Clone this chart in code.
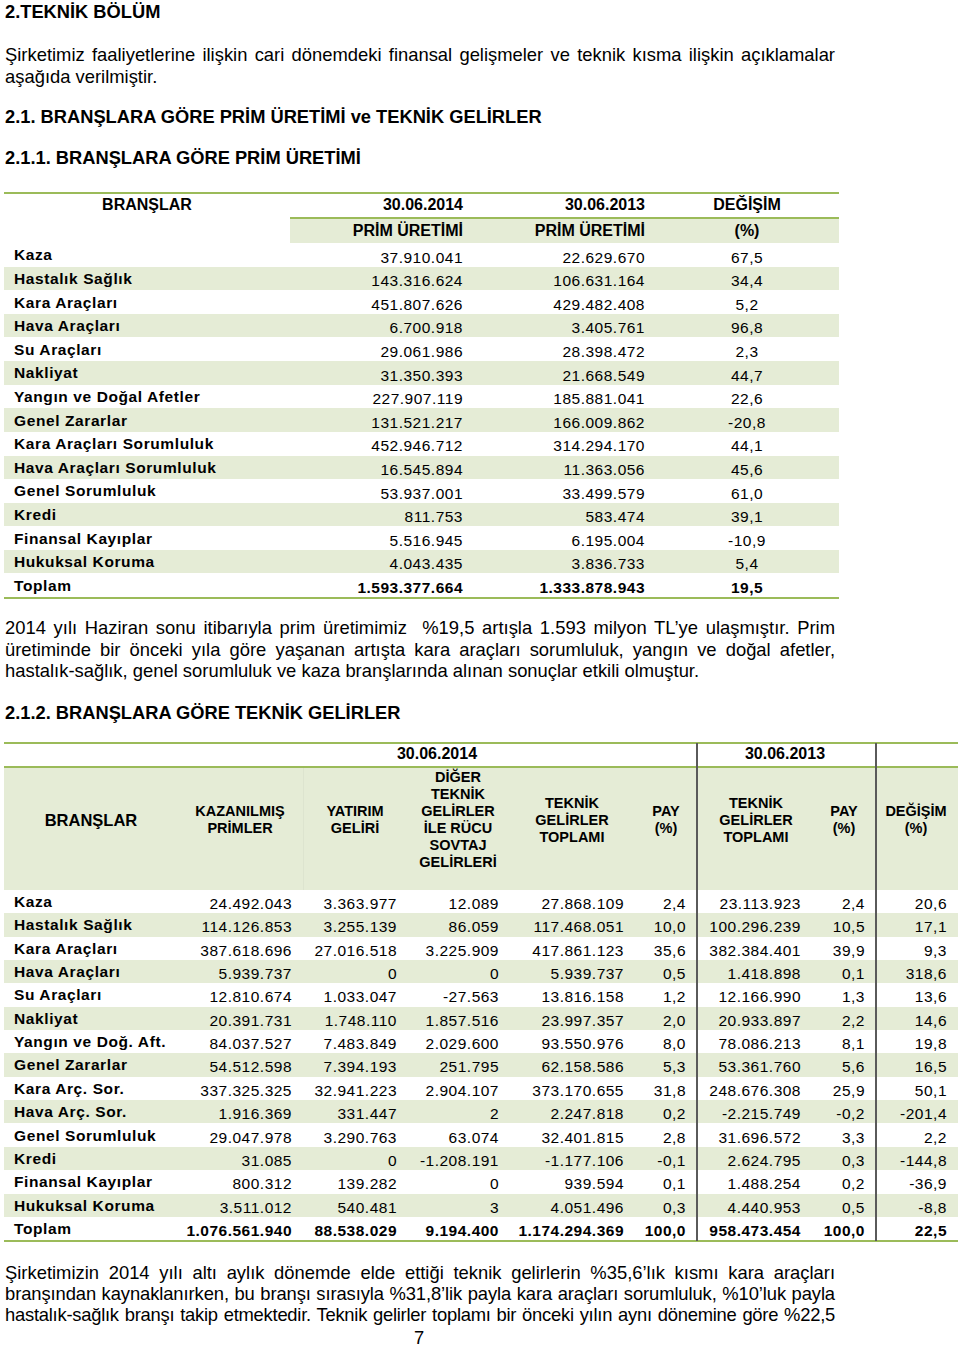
<!DOCTYPE html>
<html lang="tr">
<head>
<meta charset="UTF-8">
<title>Teknik Bölüm</title>
<script src="https://cdn.jsdelivr.net/npm/chart.js@4.4.1/dist/chart.umd.min.js"></script>
<style>
    body { margin: 0; background: #fff; color: #000; font-family: 'Liberation Sans', Arial, sans-serif; }
    #page { position: relative; width: 960px; height: 1347px; overflow: hidden; }
    .t { position: absolute; white-space: nowrap; }
    .r { position: absolute; }
    .just { text-align: justify; text-align-last: justify; }
</style>
</head>
<body>
<div id="page"></div>
<script>
// table 1: prim üretimi
const branches1 = ['Kaza', 'Hastalık Sağlık', 'Kara Araçları', 'Hava Araçları', 'Su Araçları', 'Nakliyat',
    'Yangın ve Doğal Afetler', 'Genel Zararlar', 'Kara Araçları Sorumluluk', 'Hava Araçları Sorumluluk',
    'Genel Sorumluluk', 'Kredi', 'Finansal Kayıplar', 'Hukuksal Koruma', 'Toplam'];
const prim2014 = ['37.910.041', '143.316.624', '451.807.626', '6.700.918', '29.061.986', '31.350.393', '227.907.119',
    '131.521.217', '452.946.712', '16.545.894', '53.937.001', '811.753', '5.516.945', '4.043.435', '1.593.377.664'];
const prim2013 = ['22.629.670', '106.631.164', '429.482.408', '3.405.761', '28.398.472', '21.668.549', '185.881.041',
    '166.009.862', '314.294.170', '11.363.056', '33.499.579', '583.474', '6.195.004', '3.836.733', '1.333.878.943'];
const change1 = ['67,5', '34,4', '5,2', '96,8', '2,3', '44,7', '22,6', '-20,8', '44,1', '45,6', '61,0', '39,1', '-10,9', '5,4', '19,5'];

// table 2: teknik gelirler
const branches2 = ['Kaza', 'Hastalık Sağlık', 'Kara Araçları', 'Hava Araçları', 'Su Araçları', 'Nakliyat',
    'Yangın ve Doğ. Aft.', 'Genel Zararlar', 'Kara Arç. Sor.', 'Hava Arç. Sor.', 'Genel Sorumluluk', 'Kredi',
    'Finansal Kayıplar', 'Hukuksal Koruma', 'Toplam'];
const kazanilmis = ['24.492.043', '114.126.853', '387.618.696', '5.939.737', '12.810.674', '20.391.731', '84.037.527',
    '54.512.598', '337.325.325', '1.916.369', '29.047.978', '31.085', '800.312', '3.511.012', '1.076.561.940'];
const yatirim = ['3.363.977', '3.255.139', '27.016.518', '0', '1.033.047', '1.748.110', '7.483.849', '7.394.193',
    '32.941.223', '331.447', '3.290.763', '0', '139.282', '540.481', '88.538.029'];
const diger = ['12.089', '86.059', '3.225.909', '0', '-27.563', '1.857.516', '2.029.600', '251.795', '2.904.107', '2',
    '63.074', '-1.208.191', '0', '3', '9.194.400'];
const teknik2014 = ['27.868.109', '117.468.051', '417.861.123', '5.939.737', '13.816.158', '23.997.357', '93.550.976',
    '62.158.586', '373.170.655', '2.247.818', '32.401.815', '-1.177.106', '939.594', '4.051.496', '1.174.294.369'];
const pay2014 = ['2,4', '10,0', '35,6', '0,5', '1,2', '2,0', '8,0', '5,3', '31,8', '0,2', '2,8', '-0,1', '0,1', '0,3', '100,0'];
const teknik2013 = ['23.113.923', '100.296.239', '382.384.401', '1.418.898', '12.166.990', '20.933.897', '78.086.213',
    '53.361.760', '248.676.308', '-2.215.749', '31.696.572', '2.624.795', '1.488.254', '4.440.953', '958.473.454'];
const pay2013 = ['2,4', '10,5', '39,9', '0,1', '1,3', '2,2', '8,1', '5,6', '25,9', '-0,2', '3,3', '0,3', '0,2', '0,5', '100,0'];
const change2 = ['20,6', '17,1', '9,3', '318,6', '13,6', '14,6', '19,8', '16,5', '50,1', '-201,4', '2,2', '-144,8', '-36,9', '-8,8', '22,5'];

const GREEN = '#9bbb59';
const FILL = '#e5ecd6';
const page = document.getElementById('page');

function rect(x, y, w, h, color) {
    const d = document.createElement('div');
    d.className = 'r';
    Object.assign(d.style, { left: x + 'px', top: y + 'px', width: w + 'px', height: h + 'px', background: color });
    page.appendChild(d);
}

// x is the anchor: left edge, right edge or centre depending on align
function txt(s, x, cy, o = {}) {
    const size = o.size || 15, lh = o.lh || Math.round(size * 1.2), w = o.w || 300;
    const align = o.align || 'left';
    const lines = Array.isArray(s) ? s : [s];
    const d = document.createElement('div');
    d.className = 't';
    let left = x;
    if (align === 'right') left = x - w;
    if (align === 'center') left = x - w / 2;
    Object.assign(d.style, {
        left: left + 'px', top: (cy - lines.length * lh / 2) + 'px', width: w + 'px',
        fontSize: size + 'px', lineHeight: lh + 'px', textAlign: align,
        fontWeight: o.bold ? 'bold' : 'normal', letterSpacing: (o.ls || 0) + 'px'
    });
    if (o.justify) { d.classList.add('just'); d.style.textAlign = 'justify'; }
    d.innerHTML = lines.map(l => '<div>' + l + '</div>').join('');
    page.appendChild(d);
}

const H = { size: 18.3, bold: true, w: 700 };
const P = { size: 18.4, w: 830, justify: true };

// headings and first paragraph
txt('2.TEKNİK BÖLÜM', 5, 12, H);
txt('Şirketimiz faaliyetlerine ilişkin cari dönemdeki finansal gelişmeler ve teknik kısma ilişkin açıklamalar', 5, 55, P);
txt('aşağıda verilmiştir.', 5, 77, { size: 18.4 });
txt('2.1. BRANŞLARA GÖRE PRİM ÜRETİMİ ve TEKNİK GELİRLER', 5, 117, H);
txt('2.1.1. BRANŞLARA GÖRE PRİM ÜRETİMİ', 5, 158, H);

// table 1
const t1Top = 243.1, t1Row = 23.6;
rect(4, 192, 835, 2, GREEN);
rect(290, 217, 549, 2, GREEN);
rect(290, 219, 549, 24, FILL);
txt('BRANŞLAR', 147, 204, { size: 16, bold: true, align: 'center', w: 200 });
txt('30.06.2014', 463, 204, { size: 16, bold: true, align: 'right', w: 160 });
txt('30.06.2013', 645, 204, { size: 16, bold: true, align: 'right', w: 160 });
txt('DEĞİŞİM', 747, 204, { size: 16, bold: true, align: 'center', w: 160 });
txt('PRİM ÜRETİMİ', 463, 230, { size: 16, bold: true, align: 'right', w: 160 });
txt('PRİM ÜRETİMİ', 645, 230, { size: 16, bold: true, align: 'right', w: 160 });
txt('(%)', 747, 230, { size: 16, bold: true, align: 'center', w: 160 });
branches1.forEach((b, i) => {
    const y = t1Top + i * t1Row;
    if (i % 2 === 1) rect(4, y, 835, t1Row, FILL);
    const tot = i === branches1.length - 1;
    txt(b, 14, y + 11.8, { size: 15.5, bold: true, ls: 0.6 });
    txt(prim2014[i], 463, y + 14, { size: 15.5, bold: tot, align: 'right', w: 200, ls: 0.5 });
    txt(prim2013[i], 645, y + 14, { size: 15.5, bold: tot, align: 'right', w: 200, ls: 0.5 });
    txt(change1[i], 747, y + 14, { size: 15.5, bold: tot, align: 'center', w: 120, ls: 0.5 });
});
rect(4, 597, 835, 2, GREEN);

// second paragraph
txt('2014 yılı Haziran sonu itibarıyla prim üretimimiz &nbsp;%19,5 artışla 1.593 milyon TL’ye ulaşmıştır. Prim', 5, 628, P);
txt('üretiminde bir önceki yıla göre yaşanan artışta kara araçları sorumluluk, yangın ve doğal afetler,', 5, 650, P);
txt('hastalık-sağlık, genel sorumluluk ve kaza branşlarında alınan sonuçlar etkili olmuştur.', 5, 671, { size: 18.4, w: 830 });
txt('2.1.2. BRANŞLARA GÖRE TEKNİK GELİRLER', 5, 713, H);

// table 2
const t2Top = 890, t2Row = 23.35;
rect(4, 742, 954, 2, GREEN);
rect(4, 766, 954, 2, GREEN);
rect(4, 768, 954, 122, FILL);
rect(303, 768, 1, 122, '#dde4cf');
const hs = { size: 14.5, bold: true, align: 'center', lh: 17, w: 120 };
txt('30.06.2014', 437, 753, { size: 16, bold: true, align: 'center', w: 160 });
txt('30.06.2013', 785, 753, { size: 16, bold: true, align: 'center', w: 160 });
txt('BRANŞLAR', 91, 820, { ...hs, size: 16.5, w: 170 });
txt(['KAZANILMIŞ', 'PRİMLER'], 240, 820, hs);
txt(['YATIRIM', 'GELİRİ'], 355, 820, hs);
txt(['DİĞER', 'TEKNİK', 'GELİRLER', 'İLE RÜCU', 'SOVTAJ', 'GELİRLERİ'], 458, 820, hs);
txt(['TEKNİK', 'GELİRLER', 'TOPLAMI'], 572, 820, hs);
txt(['PAY', '(%)'], 666, 820, hs);
txt(['TEKNİK', 'GELİRLER', 'TOPLAMI'], 756, 820, hs);
txt(['PAY', '(%)'], 844, 820, hs);
txt(['DEĞİŞİM', '(%)'], 916, 820, hs);

const cols2 = [kazanilmis, yatirim, diger, teknik2014, pay2014, teknik2013, pay2013, change2];
const right2 = [292, 397, 499, 624, 686, 801, 865, 947];
branches2.forEach((b, i) => {
    const y = t2Top + i * t2Row;
    if (i % 2 === 1) rect(4, y, 954, t2Row, FILL);
    const tot = i === branches2.length - 1;
    txt(b, 14, y + 11.5, { size: 15.5, bold: true, ls: 0.6 });
    cols2.forEach((col, c) => {
        txt(col[i], right2[c], y + 13.5, { size: 15.5, bold: tot, align: 'right', w: 160, ls: 0.5 });
    });
});
rect(4, 1240, 954, 2, GREEN);
rect(696, 743, 1.5, 498, '#5a5a5a');
rect(875, 743, 1.5, 498, '#5a5a5a');

// closing paragraph and page number
txt('Şirketimizin 2014 yılı altı aylık dönemde elde ettiği teknik gelirlerin %35,6’lık kısmı kara araçları', 5, 1273, P);
txt('branşından kaynaklanırken, bu branşı sırasıyla %31,8’lik payla kara araçları sorumluluk, %10’luk payla', 5, 1294, { ...P, ls: -0.1 });
txt('hastalık-sağlık branşı takip etmektedir. Teknik gelirler toplamı bir önceki yılın aynı dönemine göre %22,5', 5, 1315, { ...P, ls: -0.25 });
txt('7', 419, 1338, { size: 18.4, align: 'center', w: 40 });
</script>
</body>
</html>
